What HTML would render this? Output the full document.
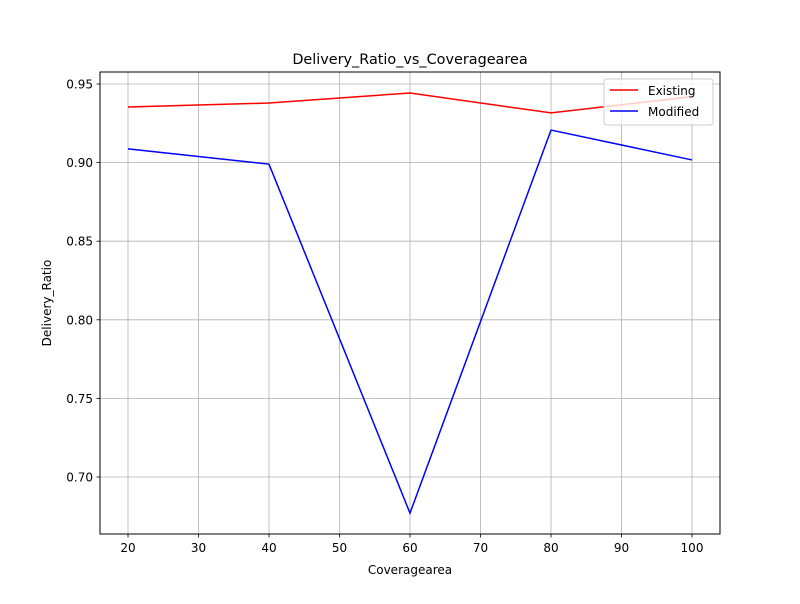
<!DOCTYPE html>
<html><head><meta charset="utf-8"><style>
body{margin:0;background:#fff;font-family:"DejaVu Sans","Liberation Sans",sans-serif;}
</style></head><body>
<svg id="chart" width="800" height="600" xmlns="http://www.w3.org/2000/svg" font-family="DejaVu Sans, Liberation Sans, sans-serif">
<rect width="800" height="600" fill="#fff"/>
<g id="grid"></g>
<g id="series"></g>
<rect x="100" y="72" width="620" height="462" fill="none" stroke="#000" stroke-width="1"/>
<g id="ticks"></g>
<text x="410" y="64" text-anchor="middle" font-size="14.4">Delivery_Ratio_vs_Coveragearea</text>
<text x="410" y="574" text-anchor="middle" font-size="12">Coveragearea</text>
<text transform="translate(51,303) rotate(-90)" text-anchor="middle" font-size="12">Delivery_Ratio</text>
<g>
<rect x="604" y="79" width="109" height="46" rx="3" fill="#fff" fill-opacity="0.8" stroke="#ccc"/>
<line x1="610" y1="90" x2="638" y2="90" stroke="red" stroke-width="1.5"/>
<text x="648" y="95" font-size="12">Existing</text>
<line x1="610" y1="111" x2="638" y2="111" stroke="blue" stroke-width="1.5"/>
<text x="648" y="116" font-size="12">Modified</text>
</g>
</svg>
<script>
const categories=[20,40,60,80,100];
const existing=[0.9354,0.9379,0.9443,0.9316,0.942];
const modified=[0.9087,0.899,0.677,0.9207,0.9017];
const xTicks=[20,30,40,50,60,70,80,90,100];
const yTicks=[0.70,0.75,0.80,0.85,0.90,0.95];
const NS="http://www.w3.org/2000/svg";
function xs(v){return 128+(v-20)*7.05;}
function ys(v){return 84+(0.95-v)*1572;}
function mk(t,a,p){const e=document.createElementNS(NS,t);for(const k in a)e.setAttribute(k,a[k]);p.appendChild(e);return e;}
const grid=document.getElementById('grid'),ticks=document.getElementById('ticks'),series=document.getElementById('series');
xTicks.forEach(v=>{const x=xs(v);
 const g=mk('line',{x1:x,x2:x,y1:72,y2:534,stroke:'#b0b0b0','stroke-width':0.8},grid);
 
 
 const t=mk('line',{x1:x,x2:x,y1:534,y2:537.5,stroke:'#000','stroke-width':0.8},ticks);
 
 
 const l=mk('text',{x:x,y:552,'text-anchor':'middle','font-size':12},ticks);l.textContent=v;
 
 
});
yTicks.forEach(v=>{const y=ys(v);
 const g=mk('line',{x1:100,x2:720,y1:y,y2:y,stroke:'#b0b0b0','stroke-width':0.8},grid);
 
 
 const t=mk('line',{x1:96.5,x2:100,y1:y,y2:y,stroke:'#000','stroke-width':0.8},ticks);
 
 
 const l=mk('text',{x:93,y:y+4.5,'text-anchor':'end','font-size':12},ticks);l.textContent=v.toFixed(2);
 
 
});
function line(vals,color,name){
 const p=mk('polyline',{points:vals.map((v,i)=>xs(categories[i])+','+ys(v)).join(' '),fill:'none',stroke:color,'stroke-width':1.5},series);
 
 
}
line(existing,'red','existing-line');
line(modified,'blue','modified-line');
</script>
</body></html>
